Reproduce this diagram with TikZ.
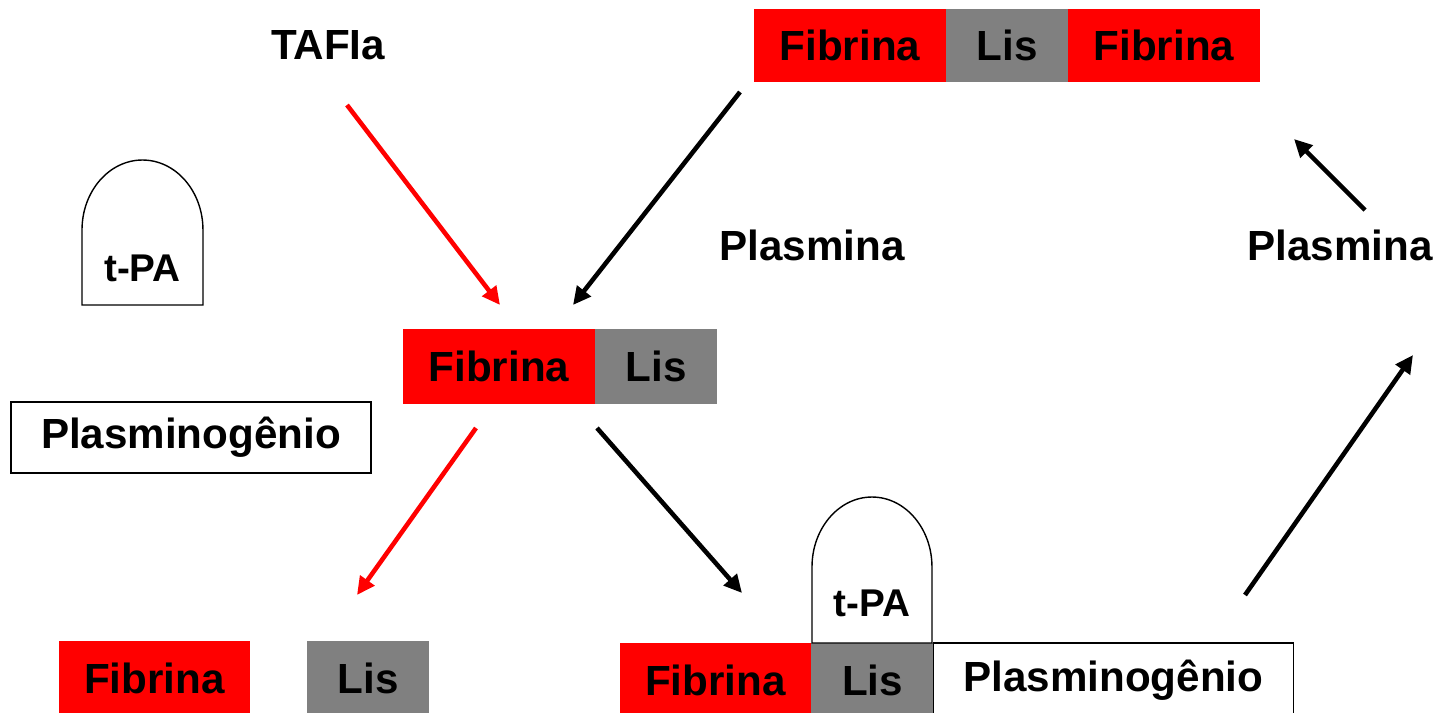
\documentclass[tikz,border=0pt]{standalone}
\usepackage{fontspec}
\setmainfont{Liberation Sans}
\definecolor{lisgray}{rgb}{0.5,0.5,0.5}
\usetikzlibrary{shapes,arrows.meta,positioning,calc}

\tikzset{
    lbl/.style={font=\bfseries\fontsize{24}{28}\selectfont, inner sep=0pt, outer sep=0pt},
    fib/.style={lbl, rectangle, fill=red, minimum width=3.84cm, minimum height=1.5cm},
    lis/.style={lbl, rectangle, fill=lisgray, minimum width=2.44cm, minimum height=1.5cm},
    plg/.style={lbl, rectangle, draw, line width=1pt, fill=white, minimum width=7.2cm, minimum height=1.42cm},
    tpa/.style={draw, line width=0.8pt, fill=white},
    tpalbl/.style={lbl, font=\bfseries\fontsize{22}{26}\selectfont},
    seta/.style={line width=2.6pt, -{Triangle[length=0.36cm,width=0.34cm]}},
}

\begin{document}
\begin{tikzpicture}[x=0.02cm,y=-0.02cm]
    \useasboundingbox (0,0) rectangle (1450,713);
    \begin{scope}
    \clip (0,0) rectangle (1450,713);

    % Top chain: Fibrina - Lis - Fibrina
    \node[fib,minimum height=1.46cm] (fa1) at (850,45.5) {Fibrina};
    \node[lis,minimum height=1.46cm,right=0pt of fa1] (la1) {Lis};
    \node[fib,minimum height=1.46cm,right=0pt of la1] (fa2) {Fibrina};

    % Labels
    \node[lbl] (tafia) at (328,45) {TAFIa};
    \node[lbl] (plm1) at (812,245) {Plasmina};
    \node[lbl] (plm2) at (1340,245) {Plasmina};

    % t-PA (free)
    \draw[tpa] (82,305) -- (82,230) arc[start angle=180,end angle=0,x radius=1.21cm,y radius=1.4cm] -- (203,305) -- cycle;
    \node[tpalbl] (tpa1) at (142.5,268) {t-PA};

    % Middle: Fibrina - Lis
    \node[fib] (fb1) at (499,366.5) {Fibrina};
    \node[lis,right=0pt of fb1] (lb1) {Lis};

    % Plasminogenio (free)
    \node[plg] (plg1) at (191,437.5) {Plasminog\^enio};

    % Bottom left: cleaved
    \node[fib] (fc1) at (154.5,678.5) {Fibrina};
    \node[lis] (lc1) at (368,678.5) {Lis};

    % Bottom right: Fibrina - Lis - Plasminogenio with t-PA
    \node[fib] (fd1) at (715.5,680.5) {Fibrina};
    \node[lis,right=0pt of fd1] (ld1) {Lis};
    \node[plg,minimum height=1.5cm,minimum width=7.2cm,anchor=west] (plg2) at (ld1.east) {Plasminog\^enio};
    \draw[tpa] (812,643) -- (812,567) arc[start angle=180,end angle=0,x radius=1.2cm,y radius=1.4cm] -- (932,643) -- cycle;
    \node[tpalbl] (tpa2) at (872,603) {t-PA};
    \end{scope}

    % Arrow ends
    \coordinate (a1) at (347,105);  \coordinate (b1) at (500,305);
    \coordinate (a2) at (740,92);   \coordinate (b2) at (573,305);
    \coordinate (a3) at (476,428);  \coordinate (b3) at (357,595);
    \coordinate (a4) at (597,428);  \coordinate (b4) at (742,593);
    \coordinate (a5) at (1245,595); \coordinate (b5) at (1413,355);
    \coordinate (a6) at (1365,210); \coordinate (b6) at (1294,139);

    % Connections
    \draw[seta,red] (a1) -- (b1);
    \draw[seta,red] (a3) -- (b3);
    \foreach \i in {2,4,5,6} {
        \draw[seta] (a\i) -- (b\i);
    }
\end{tikzpicture}
\end{document}
